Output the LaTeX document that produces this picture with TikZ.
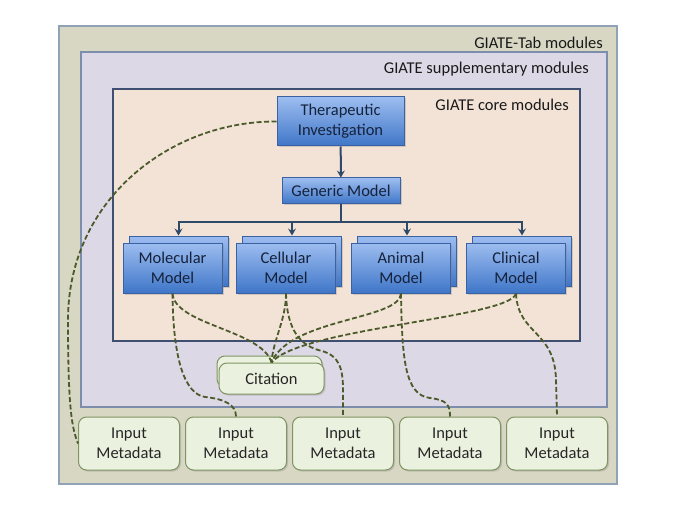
\documentclass[tikz,border=0pt]{standalone}
\usepackage{fontspec}
\setmainfont{Carlito}
\usepackage{xcolor}
\usepackage{tikz}
\usetikzlibrary{arrows.meta, positioning, shadows}
\definecolor{tabfill}{HTML}{D8D7C4}
\definecolor{tabdraw}{HTML}{8FA2B6}
\definecolor{suppfill}{HTML}{DDD8E6}
\definecolor{suppdraw}{HTML}{7C8EAC}
\definecolor{corefill}{HTML}{F3E3D7}
\definecolor{coredraw}{HTML}{3E4F72}
\definecolor{bluetop}{HTML}{9DBDF0}
\definecolor{bluebot}{HTML}{3F76C8}
\definecolor{bluedraw}{HTML}{3A62A2}
\definecolor{navytext}{HTML}{15223B}
\definecolor{metafill}{HTML}{EBF1DF}
\definecolor{metadraw}{HTML}{7F9462}
\definecolor{linkgreen}{HTML}{4B5A2A}
\definecolor{arrowblue}{HTML}{2E4A68}
\tikzset{
    region/.style={
        rectangle, draw, line width=1.3pt, inner sep=0pt
    },
    regionlabel/.style={
        anchor=east, inner sep=0pt, text=black!90
    },
    modelbox/.style={
        rectangle, minimum width=99pt, minimum height=50pt, inner sep=2pt,
        align=center, draw=bluedraw, line width=1pt, top color=bluetop, bottom color=bluebot,
        text=navytext, drop shadow={shadow xshift=1.5pt, shadow yshift=-1.5pt, opacity=0.3}
    },
    metabox/.style={
        rectangle, rounded corners=8pt, minimum width=101pt, minimum height=53pt, inner sep=2pt,
        align=center, draw=metadraw, line width=1pt, fill=metafill, text=black!85,
        drop shadow={shadow xshift=1.5pt, shadow yshift=-1.5pt, opacity=0.3}
    },
    arrow/.style={line width=2pt, draw=arrowblue, -{Stealth[length=7pt, width=8pt, inset=2.5pt]}},
    link/.style={draw=linkgreen, line width=1.8pt, dash pattern=on 5pt off 2.5pt}
}

\begin{document}
\begin{tikzpicture}[x=1pt, y=-1pt, font=\fontsize{16.5}{20}\selectfont]
    \useasboundingbox [fill=white] (0,0) rectangle (685,513);
    % nested module regions
    \node (tab) [region, draw=tabdraw, fill=tabfill, minimum width=558pt, minimum height=458pt] at (338,255) {};
    \node (tablbl) [regionlabel] at (603,43) {GIATE-Tab modules};
    \node (supp) [region, draw=suppdraw, fill=suppfill, minimum width=526pt, minimum height=355pt] at (344,229.5) {};
    \node (supplbl) [regionlabel] at (589,69) {GIATE supplementary modules};
    \node (core) [region, draw=coredraw, fill=corefill, minimum width=467pt, minimum height=252pt] at (346.5,215) {};
    \node (corelbl) [regionlabel] at (569,105) {GIATE core modules};

    % core model hierarchy
    \node (ther) [modelbox, minimum width=127pt, minimum height=49pt] at (340.5,121.5) {Therapeutic\\Investigation};
    \node (gen) [modelbox, minimum width=118pt, minimum height=26pt] at (341,191) {Generic Model};
    \foreach \nm/\xx/\txt in {mol/172.5/{Molecular\\Model}, cel/286/{Cellular\\Model}, ani/401/{Animal\\Model}, cli/516/{Clinical\\Model}} {
        \node (\nm back) [modelbox] at (\xx+6,261) {};
        \node (\nm) [modelbox] at (\xx,268) {\txt};
    }
    \draw [arrow] (ther) -- (gen);
    \draw [line width=2pt, draw=arrowblue] (gen.south) -- ++(0,17) coordinate (bar);
    \foreach \nm in {mol, cel, ani, cli}
        \draw [arrow] (bar) -| (\nm back.north);

    % citation and metadata
    \node (citback) [metabox, minimum width=105pt, minimum height=31pt] at (269.5,371.5) {};
    \node (cit) [metabox, minimum width=105pt, minimum height=31pt] at (271.5,378.5) {Citation};
    \node (in1) [metabox] at (129,443.5) {Input\\Metadata};
    \foreach \i [count=\j from 1] in {2,3,4,5}
        \node (in\i) [metabox, right=5pt of in\j] {Input\\Metadata};

    % dashed links
    \draw [link] (ther.west) .. controls (170,121) and (68,200) .. (68,320)
        .. controls (68,410) and (72,428) .. (in1.west);
    \draw [link] (mol.south) .. controls (173,360) and (185,394) .. (205,397)
        .. controls (225,399) and (236,405) .. (in2.north);
    \draw [link] (mol.south) .. controls (175,325) and (262,330) .. (cit.north);
    \draw [link] (cel.south) .. controls (286,320) and (273,340) .. (cit.north);
    \draw [link] (cel.south) .. controls (287,330) and (300,346) .. (322,351)
        .. controls (340,356) and (343,370) .. (343,390) -- (in3.north);
    \draw [link] (ani.south) .. controls (400,320) and (290,318) .. (cit.north);
    \draw [link] (ani.south) .. controls (402,360) and (405,395) .. (430,398)
        .. controls (447,400) and (450,405) .. (in4.north);
    \draw [link] (cli.south) .. controls (510,318) and (300,328) .. (cit.north);
    \draw [link] (cli.south) .. controls (518,335) and (555,330) .. (556,380) -- (in5.north);
\end{tikzpicture}
\end{document}
